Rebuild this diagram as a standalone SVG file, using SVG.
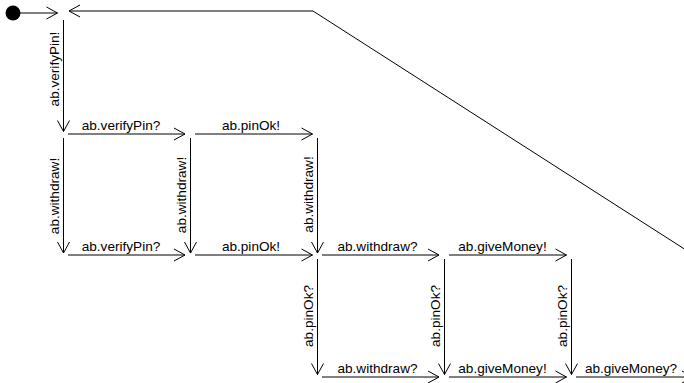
<svg xmlns="http://www.w3.org/2000/svg" width="684" height="383" viewBox="0 0 684 383">
<style>
.e{fill:none;stroke:#000;stroke-width:1;marker-end:url(#ah)}
.p{fill:none;stroke:#000;stroke-width:1}
text{font-family:"Liberation Sans",Arial,Helvetica,sans-serif;font-size:13.6px;fill:#000}
.h{text-anchor:middle}
.v{text-anchor:middle}
</style>
<defs>
<marker id="ah" markerUnits="userSpaceOnUse" markerWidth="14" markerHeight="14" refX="12" refY="7" orient="auto" overflow="visible">
<path d="M1,1 L12,7 L1,13" fill="none" stroke="#000" stroke-width="1"/>
</marker>
</defs>
<rect width="684" height="383" fill="#fff"/>
<g id="init">
<circle cx="13" cy="13" r="7.5" fill="#000"/>
</g>
<g id="connectors">
<!-- initial -->
<line class="e" x1="20" y1="13" x2="57.5" y2="13"/>
<!-- back edge -->
<polyline class="e" points="700,259 313,11 69,11"/>
<!-- col1 verticals -->
<line class="e" x1="63.5" y1="20" x2="63.5" y2="131.5"/>
<text class="v" transform="translate(59,69) rotate(-90)">ab.verifyPin!</text>
<line class="e" x1="63.5" y1="138" x2="63.5" y2="253"/>
<text class="v" transform="translate(59,196) rotate(-90)">ab.withdraw!</text>
<!-- col2 vertical -->
<line class="e" x1="190.5" y1="138" x2="190.5" y2="253"/>
<text class="v" transform="translate(186,195) rotate(-90)">ab.withdraw!</text>
<!-- col3 verticals -->
<line class="e" x1="317.5" y1="138" x2="317.5" y2="253"/>
<text class="v" transform="translate(313,194.5) rotate(-90)">ab.withdraw!</text>
<line class="e" x1="317.5" y1="259" x2="317.5" y2="374.5"/>
<text class="v" transform="translate(313,316) rotate(-90)">ab.pinOk?</text>
<!-- col4 vertical -->
<line class="e" x1="444.5" y1="259" x2="444.5" y2="374.5"/>
<text class="v" transform="translate(440,316) rotate(-90)">ab.pinOk?</text>
<!-- col5 vertical -->
<line class="e" x1="571.5" y1="259" x2="571.5" y2="374.5"/>
<text class="v" transform="translate(567,316) rotate(-90)">ab.pinOk?</text>
<!-- row1 horizontals -->
<line class="e" x1="68" y1="134" x2="185" y2="134"/>
<text class="h" x="121" y="129.5">ab.verifyPin?</text>
<line class="e" x1="195" y1="134" x2="312.5" y2="134"/>
<text class="h" x="251" y="129.5">ab.pinOk!</text>
<!-- row2 horizontals -->
<line class="e" x1="68" y1="255" x2="185" y2="255"/>
<text class="h" x="121" y="250.5">ab.verifyPin?</text>
<line class="e" x1="195" y1="255" x2="312.5" y2="255"/>
<text class="h" x="251" y="250.5">ab.pinOk!</text>
<line class="e" x1="322" y1="255" x2="439" y2="255"/>
<text class="h" x="377.5" y="250.5">ab.withdraw?</text>
<line class="e" x1="449" y1="255" x2="566.5" y2="255"/>
<text class="h" x="502.5" y="250.5">ab.giveMoney!</text>
<!-- row3 horizontals -->
<line class="e" x1="322" y1="377" x2="439" y2="377"/>
<text class="h" x="377.5" y="372.5">ab.withdraw?</text>
<line class="e" x1="449" y1="377" x2="566.5" y2="377"/>
<text class="h" x="502.5" y="372.5">ab.giveMoney!</text>
<line class="e" x1="576" y1="377" x2="693" y2="377"/>
<text class="h" x="631" y="372.5">ab.giveMoney?</text>
</g>
</svg>
